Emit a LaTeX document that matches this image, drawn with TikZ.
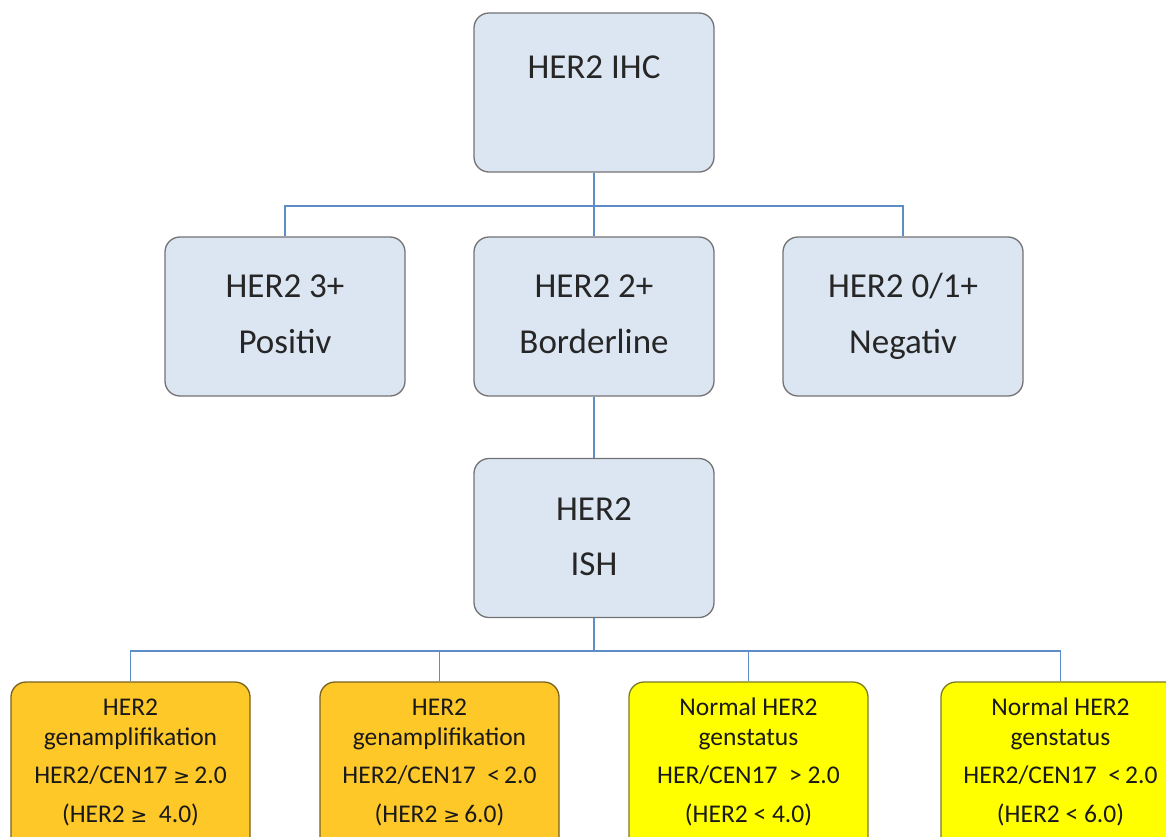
\documentclass[tikz,border=0pt]{standalone}
\usepackage{fontspec}
\setmainfont{Carlito}
\newfontfamily\symfont{DejaVu Sans}
\newcommand{\gesym}{{\symfont\fontsize{20}{20}\selectfont ≥}}
\begin{document}
\begin{tikzpicture}[x=1pt,y=-1pt,
  bluebox/.style={draw=black!55, line width=1.3pt, fill=bfill, rounded corners=15pt,
    minimum width=240pt, minimum height=159pt, inner sep=0pt},
  orbox/.style={draw=obrd, line width=1.3pt, fill=ofill, rounded corners=15pt,
    minimum width=239pt, minimum height=190pt, inner sep=0pt},
  yebox/.style={draw=ybrd, line width=1.3pt, fill=yfill, rounded corners=15pt,
    minimum width=239pt, minimum height=190pt, inner sep=0pt},
  bigtxt/.style={anchor=base, font=\fontsize{35}{42}\selectfont, text=black!85, inner sep=0pt},
  smtxt/.style={anchor=base, font=\fontsize{25.5}{30}\selectfont, text=black!90, inner sep=0pt},
  conn/.style={draw=lblue, line width=1.6pt}
]
\definecolor{bfill}{HTML}{DCE6F2}
\definecolor{ofill}{HTML}{FFC829}
\definecolor{yfill}{HTML}{FFFF00}
\definecolor{obrd}{HTML}{7A6220}
\definecolor{ybrd}{HTML}{7C7C22}
\definecolor{lblue}{HTML}{5D8DC6}
\useasboundingbox (0,0) rectangle (1166,836);
\clip (0,0) rectangle (1166,836);
\fill[white] (0,0) rectangle (1166,836);

% boxes
\node[bluebox] (ihc) at (594,92.5) {};
\node[bluebox] (pos) at (285,316.5) {};
\node[bluebox] (bor) at (594,316.5) {};
\node[bluebox] (neg) at (903,316.5) {};
\node[bluebox] (ish) at (594,538) {};
\node[orbox] (g1) at (130.5,777) {};
\node[orbox] (g2) at (439.5,777) {};
\node[yebox] (n1) at (748.5,777) {};
\node[yebox] (n2) at (1060.5,777) {};

\coordinate (bar1) at (594,206);
\coordinate (bar2) at (594,651);

% connectors
\draw[conn] (ihc.south) -- (bor.north);
\draw[conn] (pos.north) -- (pos.north |- bar1) -- (neg.north |- bar1) -- (neg.north);
\draw[conn] (bor.south) -- (ish.north);
\draw[conn] (ish.south) -- (ish.south |- bar2);
\draw[conn] (g1.north) -- (g1.north |- bar2) -- (n2.north |- bar2) -- (n2.north);
\draw[conn] (g2.north |- bar2) -- (g2.north);
\draw[conn] (n1.north |- bar2) -- (n1.north);

% texts
\node[bigtxt] (t0) at (594,78) {HER2 IHC};
\node[bigtxt] (t1a) at (285,297) {HER2 3+};
\node[bigtxt] (t1b) at (285,353) {Positiv};
\node[bigtxt] (t2a) at (594,297) {HER2 2+};
\node[bigtxt] (t2b) at (594,353) {Borderline};
\node[bigtxt] (t3a) at (903,297) {HER2 0/1+};
\node[bigtxt] (t3b) at (903,353) {Negativ};
\node[bigtxt] (t4a) at (594,520) {HER2};
\node[bigtxt] (t4b) at (594,575) {ISH};

\node[smtxt] (a1) at (130.5,715) {HER2};
\node[smtxt] (a2) at (130.5,745) {genamplifikation};
\node[smtxt] (a3) at (130.5,783) {HER2/CEN17 \gesym\,2.0};
\node[smtxt] (a4) at (130.5,822) {(HER2 \gesym\ \ 4.0)};

\node[smtxt] (b1) at (439.5,715) {HER2};
\node[smtxt] (b2) at (439.5,745) {genamplifikation};
\node[smtxt] (b3) at (439.5,783) {HER2/CEN17 \ {<}\,2.0};
\node[smtxt] (b4) at (439.5,822) {(HER2 \gesym\,6.0)};

\node[smtxt] (c1) at (748.5,715) {Normal HER2};
\node[smtxt] (c2) at (748.5,745) {genstatus};
\node[smtxt] (c3) at (748.5,783) {HER/CEN17 \ {>} 2.0};
\node[smtxt] (c4) at (748.5,822) {(HER2 {<} 4.0)};

\node[smtxt] (d1) at (1060.5,715) {Normal HER2};
\node[smtxt] (d2) at (1060.5,745) {genstatus};
\node[smtxt] (d3) at (1060.5,783) {HER2/CEN17 \ {<}\,2.0};
\node[smtxt] (d4) at (1060.5,822) {(HER2 {<} 6.0)};
\end{tikzpicture}
\end{document}
